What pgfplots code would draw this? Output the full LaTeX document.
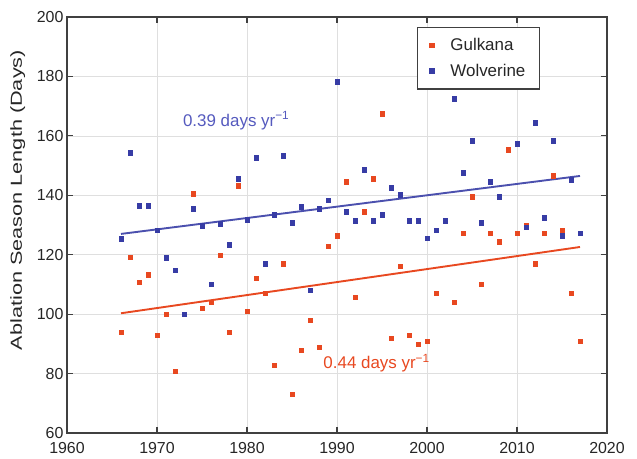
\documentclass[border=0pt]{standalone}
\usepackage{fontspec}
\setmainfont{Liberation Sans}
\usepackage{pgfplots}
\pgfplotsset{compat=1.18}
\definecolor{gred}{RGB}{232,72,32}
\definecolor{wblue}{RGB}{55,60,165}
\definecolor{tblue}{RGB}{85,90,190}
\begin{document}
\begin{tikzpicture}
\path[use as bounding box] (-67bp,-26bp) rectangle (570bp,433bp);
\begin{axis}[
  scale only axis,
  width=540bp, height=416bp,
  xmin=1960, xmax=2020, ymin=60, ymax=200,
  xtick={1960,1970,...,2020}, ytick={60,80,...,200},
  /pgf/number format/assume math mode=true,
  x tick label style={/pgf/number format/1000 sep={}, yshift=-6bp},
  tick label style={font=\fontsize{16}{18}\selectfont, text=black!85},
  ylabel={\scalebox{1.36}[1]{Ablation Season Length (Days)}},
  ylabel style={font=\fontsize{16}{18}\selectfont, at={(axis description cs:-0.091,0.56)}, anchor=center, text=black!85},
  grid=major,
  major grid style={gray!25, line width=0.7pt},
  axis line style={black!75, line width=1.5pt},
  tick style={black!75, line width=1.1pt},
  major tick length=6bp,
  tick align=inside,
  legend style={at={(0.876,0.976)}, anchor=north east, draw=black!75, line width=1.3pt,
    font=\fontsize{17}{19}\selectfont, text=black!85, inner xsep=12bp, inner ysep=9bp, row sep=8bp,
    /tikz/every odd column/.append style={column sep=14bp}},
  legend cell align=left,
]
\addplot[only marks, mark=square*, mark size=2.3bp, color=gred] coordinates {
(1966,93.9)(1967,119.2)(1968,110.8)(1969,113.2)(1970,92.9)(1971,100.0)(1972,80.8)(1974,140.5)
(1975,102.0)(1976,104.0)(1977,119.9)(1978,93.9)(1979,143.2)(1980,101.0)(1981,112.1)(1982,107.1)
(1983,82.8)(1984,116.9)(1985,73.0)(1986,87.9)(1987,98.0)(1988,88.9)(1989,122.9)(1990,126.3)
(1991,144.5)(1992,105.7)(1993,134.4)(1994,145.5)(1995,167.5)(1996,91.9)(1997,116.2)(1998,92.9)
(1999,89.9)(2000,90.9)(2001,107.1)(2003,104.0)(2004,127.3)(2005,139.5)(2006,110.1)(2007,127.3)
(2008,124.3)(2009,155.3)(2010,127.3)(2011,129.7)(2012,116.9)(2013,127.3)(2014,146.5)(2015,128.3)
(2016,107.1)(2017,90.9)};
\addlegendentry{Gulkana}
\addplot[only marks, mark=square*, mark size=2.3bp, color=wblue] coordinates {
(1966,125.3)(1967,154.3)(1968,136.4)(1969,136.4)(1970,128.3)(1971,118.9)(1972,114.8)(1973,100.0)
(1974,135.4)(1975,129.7)(1976,110.1)(1977,130.4)(1978,123.3)(1979,145.5)(1980,131.7)(1981,152.6)
(1982,116.9)(1983,133.4)(1984,153.3)(1985,130.7)(1986,136.1)(1987,108.1)(1988,135.4)(1989,138.4)
(1990,178.2)(1991,134.4)(1992,131.4)(1993,148.6)(1994,131.4)(1995,133.4)(1996,142.5)(1997,140.1)
(1998,131.4)(1999,131.4)(2000,125.6)(2001,128.3)(2002,131.4)(2003,172.5)(2004,147.6)(2005,158.4)
(2006,130.7)(2007,144.5)(2008,139.5)(2010,157.3)(2011,129.3)(2012,164.4)(2013,132.4)(2014,158.4)
(2015,126.3)(2016,145.2)(2017,127.3)};
\addlegendentry{Wolverine}
\addplot[no marks, color=gred, line width=1.9pt, forget plot] coordinates {(1966,100.3)(2017,122.6)};
\addplot[no marks, color=wblue!90!white, line width=1.9pt, forget plot] coordinates {(1966,127.0)(2017,146.5)};
\node[text=tblue, font=\fontsize{17}{19}\selectfont] at (axis cs:1978.8,165.1) {0.39 days yr\textsuperscript{\char"2212 1}};
\node[text=gred, font=\fontsize{17}{19}\selectfont] at (axis cs:1994.4,83.4) {0.44 days yr\textsuperscript{\char"2212 1}};
\end{axis}
\end{tikzpicture}
\end{document}
